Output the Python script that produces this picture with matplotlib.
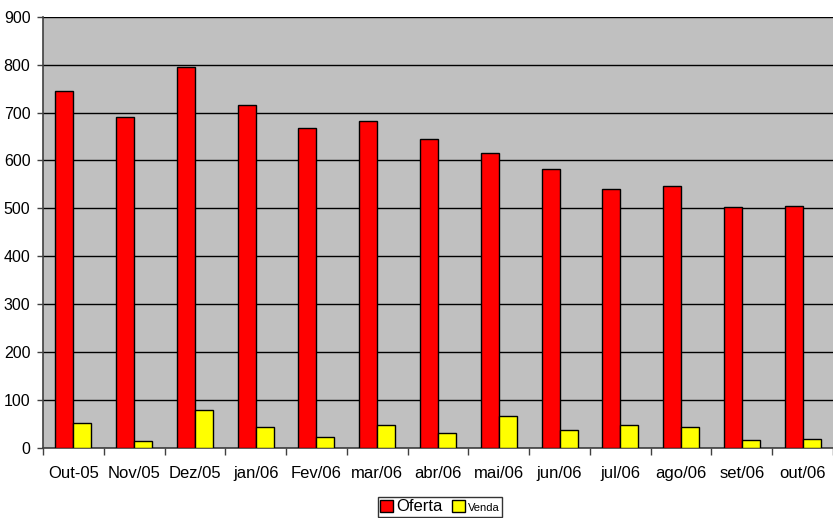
import matplotlib
matplotlib.use("Agg")
import matplotlib.pyplot as plt
import numpy as np

categories = ["Out-05", "Nov/05", "Dez/05", "jan/06", "Fev/06", "mar/06", "abr/06",
              "mai/06", "jun/06", "jul/06", "ago/06", "set/06", "out/06"]
oferta = [744, 690, 796, 716, 668, 683, 644, 615, 583, 541, 547, 502, 506]
venda = [53, 15, 79, 43, 22, 47, 31, 67, 37, 48, 43, 17, 19]
yticks = [0, 100, 200, 300, 400, 500, 600, 700, 800, 900]

plt.rcParams['font.family'] = ['Liberation Sans', 'DejaVu Sans']

fig = plt.figure(figsize=(8.33, 5.18), dpi=100)
ax = fig.add_axes([43/833, 1-448/518, 1-43/833, (448-16.7)/518])
ax.set_facecolor("#C0C0C0")

x = np.arange(len(categories))
w = 0.296
ax.bar(x - w/2, oferta, width=w, color="#FF0000", edgecolor="black", linewidth=1, label="Oferta", zorder=3)
ax.bar(x + w/2, venda, width=w, color="#FFFF00", edgecolor="black", linewidth=1, label="Venda", zorder=3)

ax.set_xlim(-0.5, len(categories) - 0.5)
ax.set_ylim(0, 900)
ax.set_yticks(yticks)
ax.set_yticklabels([str(v) for v in yticks], fontsize=11.5)
ax.yaxis.grid(True, color="black", linewidth=1)
ax.set_axisbelow(True)

ax.set_xticks(x)
ax.set_xticklabels(categories, fontsize=12)
ax.set_xticks(np.arange(len(categories) + 1) - 0.5, minor=True)
ax.tick_params(axis="x", which="major", length=0, pad=13)
ax.tick_params(axis="x", which="minor", length=5, width=1, color="#404040", direction="out")
ax.tick_params(axis="y", length=4, width=1, color="#404040", direction="out", pad=5)

for s in ["top", "right"]:
    ax.spines[s].set_visible(False)
for s in ["left", "bottom"]:
    ax.spines[s].set_color("#404040")
    ax.spines[s].set_linewidth(1.2)

leg = fig.legend(loc="lower center", bbox_to_anchor=(440/833, 0.002), ncol=2,
                 frameon=True, fancybox=False, edgecolor="black", fontsize=12,
                 handlelength=0.75, handleheight=0.75, handletextpad=0.2,
                 columnspacing=0.6, borderpad=0.15, borderaxespad=0)
leg.get_frame().set_linewidth(1)
leg.get_texts()[1].set_fontsize(8)

fig.savefig("out.png", dpi=100)
